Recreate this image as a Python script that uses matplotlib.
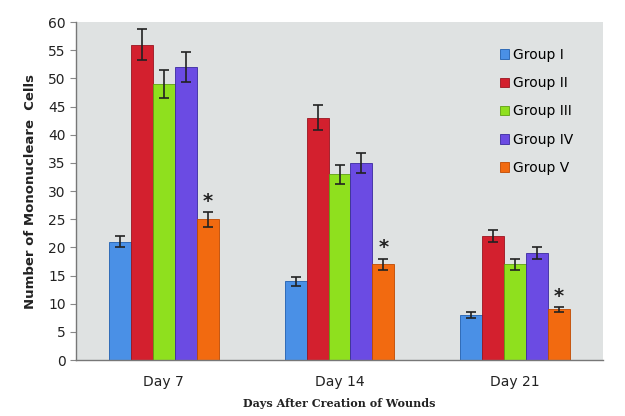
import matplotlib
matplotlib.use("Agg")
import matplotlib.pyplot as plt
import numpy as np

days = ["Day 7", "Day 14", "Day 21"]
groups = ["Group I", "Group II", "Group III", "Group IV", "Group V"]
values = {
    "Group I": [21, 14, 8],
    "Group II": [56, 43, 22],
    "Group III": [49, 33, 17],
    "Group IV": [52, 35, 19],
    "Group V": [25, 17, 9],
}
errors = {
    "Group I": [1.0, 0.8, 0.5],
    "Group II": [2.8, 2.2, 1.1],
    "Group III": [2.5, 1.7, 1.0],
    "Group IV": [2.6, 1.8, 1.0],
    "Group V": [1.3, 1.0, 0.4],
}
colors = ["#4a90e6", "#d3202e", "#8fe01e", "#6b4be3", "#f26a10"]
edges = ["#1f5fb0", "#9a1520", "#5fa010", "#3a2aa0", "#c04a00"]

fig = plt.figure(figsize=(6.25, 4.16), dpi=100)
ax = fig.add_axes([0.1216, 0.1346, 0.8432, 0.8124])
ax.set_facecolor("#dfe2e2")

x = np.arange(len(days))
w = 0.125
for i, g in enumerate(groups):
    pos = x + (i - 2) * w
    ax.bar(pos, values[g], width=w, color=colors[i], edgecolor=edges[i],
           linewidth=0.6, label=g, zorder=2)
    ax.errorbar(pos, values[g], yerr=errors[g], fmt="none", ecolor="#222222",
                elinewidth=1.2, capsize=3.5, capthick=1.2, zorder=3)
    if g == "Group V":
        for p, v, e in zip(pos, values[g], errors[g]):
            ax.text(p, v + e + 0.2, "*", ha="center", va="bottom",
                    fontsize=14, color="#222222", fontweight="bold")

ax.set_xlim(-0.5, 2.5)
ax.set_ylim(0, 60)
ax.set_yticks(np.arange(0, 61, 5))
ax.set_xticks(x)
ax.set_xticklabels(days, fontsize=10, color="#222222")
ax.tick_params(axis="x", length=0, pad=11)
ax.tick_params(axis="y", labelsize=10, labelcolor="#222222", length=4,
               color="#888888", direction="out")
for s in ["top", "right"]:
    ax.spines[s].set_visible(False)
for s in ["left", "bottom"]:
    ax.spines[s].set_color("#777777")
    ax.spines[s].set_linewidth(1.0)

ax.set_ylabel("Number of Mononucleare  Cells", fontsize=9.5, fontweight="bold",
              color="#222222", labelpad=8)
ax.set_xlabel("Days After Creation of Wounds", fontsize=8, fontweight="bold",
              family="DejaVu Serif", color="#222222", labelpad=6)

leg = ax.legend(loc="upper left", bbox_to_anchor=(0.78, 0.96), frameon=False,
                fontsize=10, labelspacing=1.02, handlelength=0.7,
                handleheight=0.7, handletextpad=0.3)

fig.savefig("out.png", dpi=100)
